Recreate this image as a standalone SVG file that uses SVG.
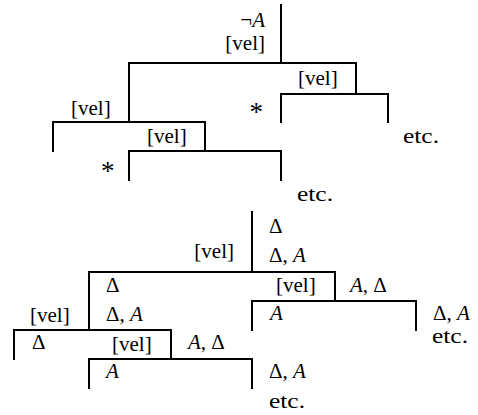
<svg xmlns="http://www.w3.org/2000/svg" width="478" height="415" viewBox="0 0 478 415">
<style>
text{font-family:'Liberation Serif','DejaVu Serif',serif;font-size:21px;fill:#000}
.i{font-style:italic}
.e{text-anchor:end}
.s{font-size:27px}
.ln{stroke:#000;stroke-width:2;fill:none;stroke-linecap:square}
</style>
<rect width="478" height="415" fill="#fff"/>
<g id="connectors" class="ln">
<path d="M281 5V63M129 63H356M129 63V122M356 63V94M281 94H388M281 94V122M388 94V122M53 122H205M53 122V151M205 122V151M129 151H281M129 151V180M281 151V180"/>
<path d="M252 212V272M89 272H335M89 272V330M335 272V301M252 301H416M252 301V330M416 301V330M14 330H171M14 330V359M171 330V359M89 359H252M89 359V388M252 359V388"/>
</g>
<g id="top-root">
<text class="e" x="265" y="27">¬<tspan class="i">A</tspan></text>
<text class="e" x="265" y="50">[vel]</text>
</g>
<g id="top-right">
<text x="298" y="85">[vel]</text>
<text class="e s" x="263" y="121">*</text>
<text x="403" y="143" textLength="36" lengthAdjust="spacingAndGlyphs">etc.</text>
</g>
<g id="top-left">
<text x="71" y="115">[vel]</text>
<text x="147" y="143">[vel]</text>
<text class="s" x="101" y="180">*</text>
<text x="297" y="201" textLength="36" lengthAdjust="spacingAndGlyphs">etc.</text>
</g>
<g id="bot-root">
<text x="269" y="233">Δ</text>
<text x="269" y="262">Δ, <tspan class="i">A</tspan></text>
<text class="e" x="234" y="258">[vel]</text>
</g>
<g id="bot-mid">
<text x="106" y="292">Δ</text>
<text x="106" y="321">Δ, <tspan class="i">A</tspan></text>
<text x="276" y="292">[vel]</text>
<text x="350" y="292"><tspan class="i">A</tspan>, Δ</text>
</g>
<g id="bot-right">
<text x="270" y="320" class="i">A</text>
<text x="433" y="320">Δ, <tspan class="i">A</tspan></text>
<text x="432" y="343" textLength="36" lengthAdjust="spacingAndGlyphs">etc.</text>
</g>
<g id="bot-left">
<text x="30" y="322">[vel]</text>
<text x="32" y="349">Δ</text>
<text x="112" y="351">[vel]</text>
<text x="188" y="349"><tspan class="i">A</tspan>, Δ</text>
</g>
<g id="bot-leaf">
<text x="106" y="378" class="i">A</text>
<text x="269" y="378">Δ, <tspan class="i">A</tspan></text>
<text x="269" y="408" textLength="36" lengthAdjust="spacingAndGlyphs">etc.</text>
</g>
</svg>
